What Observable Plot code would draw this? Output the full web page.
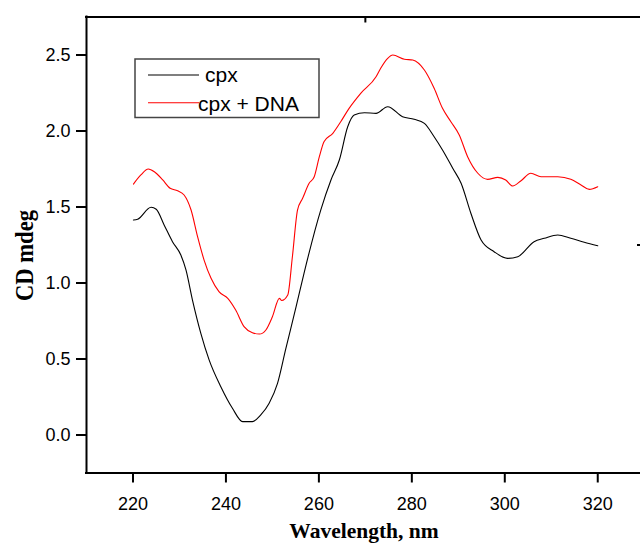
<!DOCTYPE html>
<html><head><meta charset="utf-8">
<script src="https://cdn.jsdelivr.net/npm/d3@7"></script>
<script src="https://cdn.jsdelivr.net/npm/@observablehq/plot@0.6"></script>
<style>html,body{margin:0;padding:0;background:#fff;overflow:hidden}</style>
</head><body><div id="chart"></div>
<script>
const seriesNames = ["cpx", "cpx + DNA"];
const seriesColors = ["#000000", "#ff0000"];

const cpxWavelength = [220.1, 221.0, 223.9, 225.0, 226.7, 228.5, 230.3, 231.4, 232.8, 234.6, 236.4, 238.9, 241.4, 243.6, 245.7, 247.5, 249.3, 251.1, 252.9, 255.1, 256.8, 260.4, 262.6, 264.4, 266.2, 267.6, 269.8, 272.3, 274.8, 278.0, 280.5, 282.7, 284.8, 286.6, 288.8, 290.6, 292.7, 294.9, 297.7, 300.6, 302.8, 306.3, 308.5, 311.4, 314.2, 317.1, 320.0];
const cpxCD = [1.414, 1.419, 1.498, 1.485, 1.382, 1.272, 1.184, 1.086, 0.888, 0.669, 0.493, 0.318, 0.176, 0.088, 0.088, 0.132, 0.209, 0.340, 0.570, 0.844, 1.064, 1.480, 1.678, 1.809, 2.028, 2.105, 2.120, 2.116, 2.160, 2.094, 2.077, 2.050, 1.962, 1.875, 1.755, 1.656, 1.459, 1.283, 1.206, 1.162, 1.173, 1.272, 1.294, 1.316, 1.294, 1.268, 1.245];

const dnaWavelength = [220.1, 221.7, 223.3, 224.6, 226.4, 228.0, 229.6, 231.0, 232.5, 233.9, 235.3, 236.8, 238.5, 240.4, 242.1, 243.9, 245.7, 247.2, 248.6, 250.0, 251.5, 252.0, 253.3, 254.3, 255.4, 256.5, 257.9, 259.0, 260.1, 261.1, 263.0, 264.7, 266.5, 269.0, 272.3, 273.3, 274.8, 275.9, 278.4, 280.2, 282.7, 284.8, 286.6, 288.4, 290.2, 292.0, 294.2, 296.3, 298.5, 300.2, 301.7, 303.5, 305.6, 307.8, 311.4, 314.2, 316.4, 318.2, 320.0];
const dnaCD = [1.651, 1.711, 1.750, 1.732, 1.678, 1.623, 1.607, 1.579, 1.480, 1.305, 1.151, 1.031, 0.943, 0.899, 0.822, 0.713, 0.673, 0.664, 0.691, 0.778, 0.899, 0.885, 0.921, 1.173, 1.480, 1.557, 1.656, 1.699, 1.831, 1.930, 1.985, 2.061, 2.149, 2.248, 2.357, 2.413, 2.478, 2.500, 2.472, 2.467, 2.401, 2.281, 2.149, 2.061, 1.974, 1.831, 1.722, 1.682, 1.695, 1.678, 1.638, 1.673, 1.722, 1.699, 1.699, 1.682, 1.645, 1.616, 1.633];

const xTicks = [220, 240, 260, 280, 300, 320];
const yTicks = [0, 0.5, 1.0, 1.5, 2.0, 2.5];
const xDomain = [210, 329.2];
const yDomain = [-0.25, 2.75];
const topMidTick = [270];
const rightMidTick = [1.25];
const xLabel = "Wavelength, nm";
const yLabel = "CD mdeg";

const rows = [
  ...cpxWavelength.map((w, i) => ({series: seriesNames[0], w, cd: cpxCD[i]})),
  ...dnaWavelength.map((w, i) => ({series: seriesNames[1], w, cd: dnaCD[i]}))
];

const sans = "'Liberation Sans', Arial, Helvetica, sans-serif";
const serif = "'Liberation Serif', 'Times New Roman', serif";

const plot = Plot.plot({
  width: 640,
  height: 543,
  marginLeft: 86,
  marginRight: 0,
  marginTop: 16.5,
  marginBottom: 70.5,
  style: {fontFamily: sans, fontSize: "18px", color: "#000", background: "#fff", overflow: "visible", maxWidth: "none"},
  x: {domain: xDomain},
  y: {domain: yDomain},
  color: {domain: seriesNames, range: seriesColors},
  marks: [
    Plot.axisX(xTicks, {tickSize: 10, tickPadding: 14, strokeWidth: 2, fontSize: 18, label: null, tickFormat: d3.format("d")}),
    Plot.axisY(yTicks, {tickSize: 10, tickPadding: 6, strokeWidth: 2, fontSize: 18, label: null, tickFormat: d3.format(".1f")}),
    Plot.axisX(topMidTick, {anchor: "top", tickSize: -5, strokeWidth: 2, label: null, tickFormat: () => ""}),
    Plot.axisY(rightMidTick, {anchor: "right", tickSize: -4, strokeWidth: 2, label: null, tickFormat: () => ""}),
    Plot.ruleY([yDomain[0], yDomain[1]], {stroke: "#000", strokeWidth: 2, strokeLinecap: "square"}),
    Plot.ruleX([xDomain[0]], {stroke: "#000", strokeWidth: 2, strokeLinecap: "square"}),
    Plot.line(rows, {x: "w", y: "cd", z: "series", stroke: "series", strokeWidth: 1.1, curve: "monotone-x"})
  ]
});

const svg = d3.select(plot);
// axis titles
svg.append("text")
  .attr("x", 364).attr("y", 538)
  .attr("text-anchor", "middle")
  .attr("font-family", serif).attr("font-weight", "bold").attr("font-size", 21.5)
  .attr("fill", "#000")
  .text(xLabel);
svg.append("text")
  .attr("transform", "translate(32.5,255.5) rotate(-90)")
  .attr("text-anchor", "middle")
  .attr("font-family", serif).attr("font-weight", "bold").attr("font-size", 26)
  .attr("textLength", 91).attr("lengthAdjust", "spacingAndGlyphs")
  .attr("fill", "#000")
  .text(yLabel);

// legend
const lg = svg.append("g").attr("text-anchor", "start");
lg.append("rect").attr("x", 135).attr("y", 59).attr("width", 184).attr("height", 58.5)
  .attr("fill", "#fff").attr("stroke", "#444").attr("stroke-width", 1.5);
const legendY = [75, 102.7];
const legendTextX = [205, 198];
const legendTextY = [82, 111];
seriesNames.forEach((name, i) => {
  lg.append("line").attr("x1", 148).attr("x2", 199).attr("y1", legendY[i]).attr("y2", legendY[i])
    .attr("stroke", seriesColors[i]).attr("stroke-width", 1.1);
  lg.append("text").attr("x", legendTextX[i]).attr("y", legendTextY[i])
    .attr("text-anchor", "start")
    .attr("font-family", sans).attr("font-size", 21).attr("fill", "#000").text(name);
});

document.getElementById("chart").appendChild(plot);
</script>
</body></html>
